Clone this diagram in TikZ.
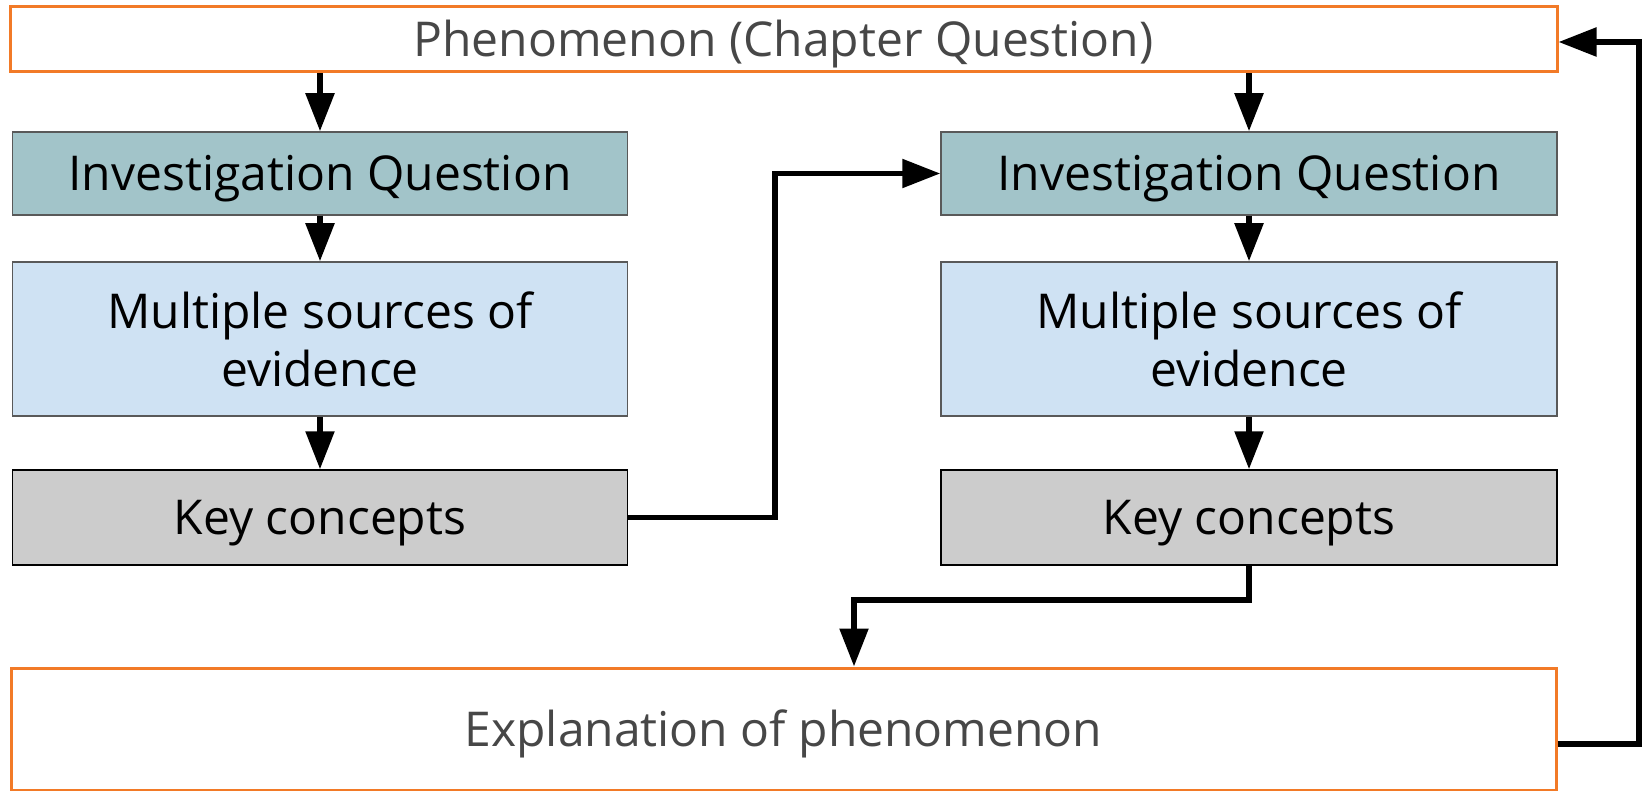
\documentclass[tikz,border=0pt]{standalone}
\usepackage{fontspec}
\setmainfont{Open Sans}
\usetikzlibrary{arrows.meta}
\definecolor{orng}{HTML}{F27A27}
\definecolor{iqfill}{HTML}{A2C4C9}
\definecolor{msfill}{HTML}{CFE2F3}
\definecolor{kcfill}{HTML}{CCCCCC}
\definecolor{txtgray}{HTML}{474747}
\definecolor{edgegray}{HTML}{595959}
\begin{document}
\begin{tikzpicture}[x=1pt,y=-1pt,
  every node/.style={font=\fontsize{48}{58}\selectfont, inner sep=0pt, align=center},
  capline/.style={text height=34.3pt, text depth=0pt},
  obox/.style={draw=orng, line width=3pt, fill=white, text=txtgray},
  iqbox/.style={draw=edgegray, line width=1.5pt, fill=iqfill, capline},
  msbox/.style={draw=edgegray, line width=1.5pt, fill=msfill},
  kcbox/.style={draw=black, line width=1.5pt, fill=kcfill, capline},
  flow/.style={line width=5.5pt, -{Triangle[length=38pt,width=28pt]}}
]
\useasboundingbox (0,0) rectangle (1643,791);
\clip (0,0) rectangle (1643,791);

\node[obox, capline, minimum width=1547pt, minimum height=65pt] (top) at (783.5,39.5) {Phenomenon (Chapter Question)};

\node[iqbox, minimum width=615pt, minimum height=83pt] (iq1) at (320,173.5) {Investigation Question};
\node[msbox, minimum width=615pt, minimum height=154pt] (ms1) at (320,339) {Multiple sources of\\evidence};
\node[kcbox, minimum width=615pt, minimum height=95pt] (kc1) at (320,517.5) {Key concepts};

\node[iqbox, minimum width=616pt, minimum height=83pt] (iq2) at (1249,173.5) {Investigation Question};
\node[msbox, minimum width=616pt, minimum height=154pt] (ms2) at (1249,339) {Multiple sources of\\evidence};
\node[kcbox, minimum width=616pt, minimum height=95pt] (kc2) at (1249,517.5) {Key concepts};

\node[obox, capline, minimum width=1545pt, minimum height=122pt] (expl) at (783.5,729) {Explanation of phenomenon};

\coordinate (j1) at (775,0);
\coordinate (j2) at (854,600);
\coordinate (r1) at (1639,744);
\coordinate (r2) at (1639,42);

\draw[flow] (top.south -| iq1.north) -- (iq1.north);
\draw[flow] (top.south -| iq2.north) -- (iq2.north);
\draw[flow] (iq1) -- (ms1);
\draw[flow] (ms1) -- (kc1);
\draw[flow] (iq2) -- (ms2);
\draw[flow] (ms2) -- (kc2);
\draw[flow] (kc1.east) -- (j1 |- kc1.east) -- (j1 |- iq2.west) -- (iq2.west);
\draw[flow] (kc2.south) |- (j2) -- (j2 |- expl.north);
\draw[flow] (r1 -| expl.east) -- (r1) -- (r2) -- (r2 -| top.east);
\end{tikzpicture}
\end{document}
